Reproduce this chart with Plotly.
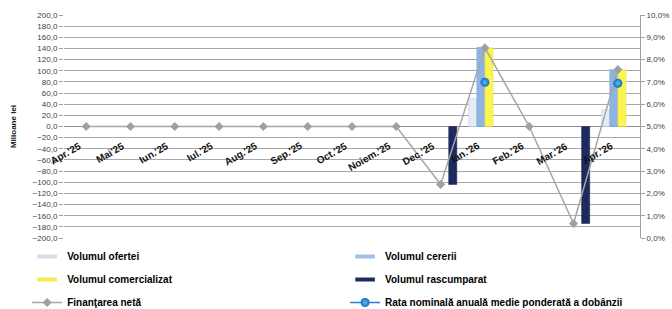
import plotly.graph_objects as go

months = ["Apr.'25", "Mai'25", "Iun.'25", "Iul.'25", "Aug.'25", "Sep.'25", "Oct.'25",
          "Noiem.'25", "Dec.'25", "Ian.'26", "Feb.'26", "Mar.'26", "Apr.'26"]
vol_oferta = [None, None, None, None, None, None, None, None, None, 50, None, None, 30]
vol_cerere = [None, None, None, None, None, None, None, None, None, 142, None, None, 102]
vol_comerc = [None, None, None, None, None, None, None, None, None, 141, None, None, 102]
vol_rascump = [None, None, None, None, None, None, None, None, -104, None, None, -174, None]
finantare_neta = [0, 0, 0, 0, 0, 0, 0, 0, -104, 141, 0, -174, 102]
rata = [None, None, None, None, None, None, None, None, None, 0.0698, None, None, 0.0694]

x = list(range(len(months)))

bar_series = [
    ("Volumul ofertei", vol_oferta, "#e4ecf6", "#b9c9de", "#d3deec", "legend"),
    ("Volumul cererii", vol_cerere, "#8fb4e3", "#7aa3d6", "#9fc0e8", "legend2"),
    ("Volumul comercializat", vol_comerc, "#fbf552", "#e2d83a", "#f3ec4a", "legend"),
    ("Volumul rascumparat", vol_rascump, "#1d2a5e", "#17224d", "#1d2a5e", "legend2"),
]

fig = go.Figure()
for k, (name, vals, col, edge, swatch, leg) in enumerate(bar_series):
    fig.add_bar(x=x, y=vals, name=name, showlegend=False, legendgroup=name,
                marker=dict(color=col, line=dict(color=edge, width=0.5)))
    # compact legend swatch
    fig.add_scatter(x=[None], y=[None], name=name, legendgroup=name, legend=leg,
                    mode="markers",
                    marker=dict(symbol="line-ew-open", size=14, color=swatch,
                                line=dict(color=swatch, width=4)))

fig.add_scatter(x=x, y=finantare_neta, name="Finanţarea netă", mode="lines+markers",
                legend="legend", legendgroup="fin",
                line=dict(color="#a6a6a6", width=1.5),
                marker=dict(symbol="diamond", size=7, color="#a0a0a0"))
fig.add_scatter(x=x, y=rata, name="Rata nominală anuală medie ponderată a dobânzii",
                mode="lines+markers", yaxis="y2", connectgaps=False,
                legend="legend2", legendgroup="rata",
                line=dict(color="#2f7fd0", width=1.5),
                marker=dict(symbol="circle", size=9, color="#0a6fc2",
                            line=dict(width=0),
                            gradient=dict(type="radial", color="#6cb8f5")))

for i, m in enumerate(months):
    fig.add_annotation(x=i, y=0, xref="x", yref="y", text="<b>" + m + "</b>",
                       showarrow=False, textangle=-30, xanchor="right", yanchor="top",
                       xshift=-1, yshift=-11,
                       font=dict(family="Liberation Sans, Arial", size=10, color="#111111"))

legend_font = dict(family="Liberation Sans, Arial", size=10, color="#000000", weight="bold")

fig.update_layout(
    width=672, height=309,
    margin=dict(l=64, r=32, t=15, b=71, autoexpand=False),
    paper_bgcolor="white", plot_bgcolor="white",
    separators=", ",
    barmode="group", bargap=0.27, bargroupgap=0,
    showlegend=True,
    legend=dict(orientation="v", x=-0.064, xanchor="left", y=-0.018, yanchor="top",
                font=legend_font, itemwidth=30, tracegroupgap=4, traceorder="grouped"),
    legend2=dict(orientation="v", x=0.488, xanchor="left", y=-0.018, yanchor="top",
                 font=legend_font, itemwidth=30, tracegroupgap=4, traceorder="grouped"),
    xaxis=dict(range=[-0.5, 12.5], showticklabels=False, showgrid=False,
               zeroline=False, showline=False, ticks=""),
    yaxis=dict(range=[-200, 200], dtick=20, tickformat=".1f",
               showgrid=True, gridcolor="#a8a8a8", gridwidth=1,
               zeroline=True, zerolinecolor="#8c8c8c", zerolinewidth=1,
               ticks="outside", ticklen=4, tickcolor="#a0a0a0",
               tickfont=dict(family="Liberation Sans, Arial", size=8, color="#404040"),
               title=dict(text="<b>Milioane lei</b>", standoff=14,
                          font=dict(family="Liberation Sans, Arial", size=8, color="#202020"))),
    yaxis2=dict(range=[0, 0.1], dtick=0.01, tickformat=".1%", overlaying="y",
                side="right", showgrid=False, zeroline=False,
                showline=True, linecolor="#a0a0a0", linewidth=1,
                ticks="outside", ticklen=4, tickcolor="#a0a0a0",
                tickfont=dict(family="Liberation Sans, Arial", size=8, color="#404040")),
)

fig.write_html("out.html", config={"displayModeBar": False},
               post_script="document.body.style.margin='0px';")
